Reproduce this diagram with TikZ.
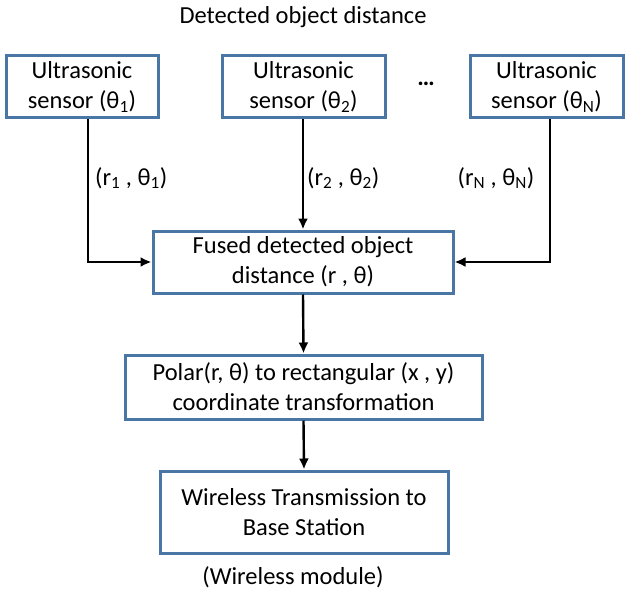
\documentclass[tikz,border=0pt]{standalone}
\usepackage{fontspec}
\setmainfont{Carlito}
\usetikzlibrary{arrows.meta}
\definecolor{boxblue}{HTML}{4A76A6}
\begin{document}
\begin{tikzpicture}[x=1pt,y=-1pt,
  box/.style={draw=boxblue,line width=3pt,fill=white,align=center,inner sep=0pt,
    font=\fontsize{24.5}{30}\selectfont},
  txt/.style={font=\fontsize{24.5}{30}\selectfont,inner sep=0pt},
  arr/.style={line width=2.4pt,-{Latex[length=11pt,width=10pt]}}]
\useasboundingbox (0,0) rectangle (626,596);
\node[txt] (title) at (303,17) {Detected object distance};
\node[box,minimum width=152pt,minimum height=62pt] (s1) at (82,87) {Ultrasonic\\sensor (θ\textsubscript{1})};
\node[box,minimum width=163pt,minimum height=62pt] (s2) at (303.5,87) {Ultrasonic\\sensor (θ\textsubscript{2})};
\node[box,minimum width=153pt,minimum height=62pt] (sN) at (546.5,87) {Ultrasonic\\sensor (θ\textsubscript{N})};
\node[txt] (dots) at (426,84) {\bfseries …};
\node[box,minimum width=300pt,minimum height=62pt] (fused) at (303,262) {Fused detected object\\distance (r , θ)};
\node[box,minimum width=357pt,minimum height=64pt] (polar) at (303.5,387) {Polar(r, θ) to rectangular (x , y)\\coordinate transformation};
\node[box,minimum width=288pt,minimum height=82pt] (wire) at (304,512) {Wireless Transmission to\\Base Station};
\node[txt] (mod) at (293,577) {(Wireless module)};
\node[txt,anchor=west] (l1) at (95,178) {(r\textsubscript{1} , θ\textsubscript{1})};
\node[txt,anchor=west] (l2) at (307,178) {(r\textsubscript{2} , θ\textsubscript{2})};
\node[txt] (lN) at (496,178) {(r\textsubscript{N} , θ\textsubscript{N})};
\draw[arr] ([xshift=6pt]s1.south) |- (fused.west);
\draw[arr] (s2.south -| fused.north) -- (fused.north);
\draw[arr] ([xshift=3.5pt]sN.south) |- (fused.east);
\draw[arr] (fused.south) -- (polar.south |- polar.north);
\draw[arr] (polar.south) -- (wire.south |- wire.north);
\end{tikzpicture}
\end{document}
